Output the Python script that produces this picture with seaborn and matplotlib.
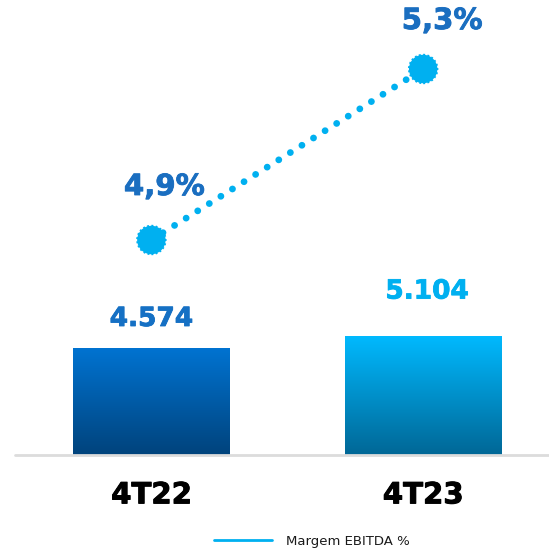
import numpy as np
import matplotlib
matplotlib.use("Agg")
import matplotlib.pyplot as plt
import matplotlib.patheffects as pe
from matplotlib.colors import LinearSegmentedColormap
from matplotlib.lines import Line2D
import seaborn as sns
import pandas as pd

# Data
periods = ["4T22", "4T23"]
ebitda = [4574, 5104]
margin_pct = [4.9, 5.3]
legend_label = "Margem EBITDA %"

sns.set_theme(style="white")
plt.rcParams["font.family"] = ["DejaVu Sans"]

# Styling
bar_gradients = [("#0073D1", "#00437C"), ("#00BAFF", "#006796")]
value_colors = ["#1570C4", "#00B0F0"]
pct_color = "#1A6EC0"
line_color = "#00B0F0"
value_offsets_px = [(0, 29), (4, 44)]
pct_offsets_px = [(13, 53), (19, 48)]

df = pd.DataFrame({"period": periods, "ebitda": ebitda, "margin": margin_pct})

W, H = 549, 548
fig = plt.figure(figsize=(W / 100, H / 100), dpi=100)
base_y = 455
ax = fig.add_axes([0, (H - base_y) / H, 1, base_y / H])

sns.barplot(data=df, x="period", y="ebitda", ax=ax, width=0.577,
            color="white", saturation=1, edgecolor="none", linewidth=0)
px_per_unit = 107 / 4574

# gradient fill clipped to each bar
for patch, (top, bottom) in zip(ax.patches, bar_gradients):
    x0, y0 = patch.get_x(), patch.get_y()
    w, h = patch.get_width(), patch.get_height()
    cmap = LinearSegmentedColormap.from_list("g", [bottom, top])
    grad = np.linspace(0, 1, 256).reshape(-1, 1)
    im = ax.imshow(grad, cmap=cmap, aspect="auto", origin="lower",
                   extent=[x0, x0 + w, y0, y0 + h], zorder=2)
    im.set_clip_path(patch)
ax.set_xlim(-0.557, 1.463)
ax.set_ylim(0, base_y / px_per_unit)

# baseline
ax.axhline(0, xmin=15 / W, xmax=1, color="#DCDCDC", lw=2, zorder=3, clip_on=False)

def px(v):
    return v * 72 / 100

def heavy(color, w=0.6):
    return [pe.withStroke(linewidth=w, foreground=color)]

for i, (v, c, off) in enumerate(zip(ebitda, value_colors, value_offsets_px)):
    ax.annotate(f"{v:,}".replace(",", "."), (i, v),
                xytext=(px(off[0]), px(off[1])), textcoords="offset points",
                ha="center", va="center", fontsize=19, fontweight="bold", color=c,
                path_effects=heavy(c))

ax.set_xlabel("")
ax.set_ylabel("")
ax.set_yticks([])
ax.tick_params(axis="x", length=0, pad=19)
for lbl in ax.get_xticklabels():
    lbl.set_fontsize(21)
    lbl.set_fontweight("bold")
    lbl.set_color("black")
    lbl.set_path_effects(heavy("black", 0.7))
for s in ax.spines.values():
    s.set_visible(False)

# margin line on secondary axis
ax2 = ax.twinx()
pct_per_px = 0.4 / 171
ax2.set_ylim(4.9 - (base_y - 240) * pct_per_px, 4.9 + 240 * pct_per_px)
sns.lineplot(x=[0, 1], y=margin_pct, ax=ax2, color=line_color, lw=4.9,
             linestyle=(0, (0.01, 2.0)), dash_capstyle="round", legend=False)
ax2.scatter([0, 1], margin_pct, s=420, color=line_color, zorder=5,
            edgecolors=line_color, linewidths=1.4, linestyle=(0, (1, 1.2)))
for i, (v, off) in enumerate(zip(margin_pct, pct_offsets_px)):
    ax2.annotate(f"{v:.1f}%".replace(".", ","), (i, v),
                 xytext=(px(off[0]), px(off[1])), textcoords="offset points",
                 ha="center", va="center", fontsize=21, fontweight="bold",
                 color=pct_color, path_effects=heavy(pct_color))
ax2.set_yticks([])
ax2.set_ylabel("")
for s in ax2.spines.values():
    s.set_visible(False)
ax2.set_xlim(-0.557, 1.463)

handle = Line2D([], [], color=line_color, lw=2)
fig.legend([handle], [legend_label], loc="center",
           bbox_to_anchor=(312 / W, (H - 541) / H), frameon=False,
           fontsize=9.5, handlelength=4.4, handletextpad=1.1,
           labelcolor="#1A1A1A")

fig.savefig("out.png", dpi=100)
